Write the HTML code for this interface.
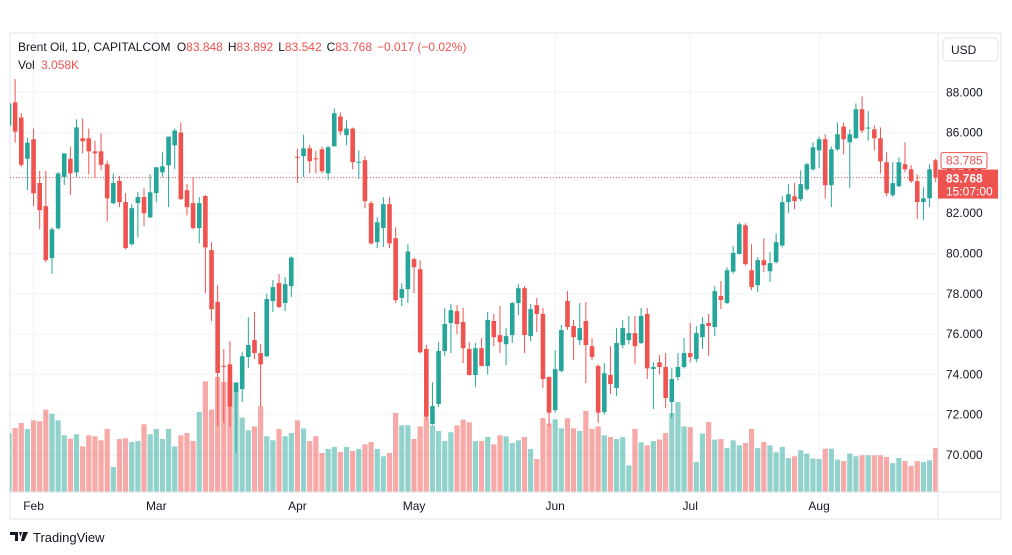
<!DOCTYPE html>
<html><head><meta charset="utf-8">
<style>
html,body{margin:0;padding:0;background:#fff;width:1012px;height:555px;overflow:hidden;font-family:"Liberation Sans",sans-serif}
svg{position:absolute;left:0;top:0}
</style></head>
<body>
<svg id="chart" width="1012" height="555" viewBox="0 0 1012 555">
<rect x="10" y="33" width="991" height="486" fill="#fff" stroke="#e0e3eb" stroke-width="1"/>
<g id="grid"></g>
<g id="vol"></g>
<g id="candles"></g>
<g id="axes"></g>
<text x="18" y="51" font-size="12" fill="#131722">Brent Oil, 1D, CAPITALCOM <tspan dx="3">O</tspan><tspan fill="#ef5350">83.848</tspan><tspan dx="5">H</tspan><tspan fill="#ef5350">83.892</tspan><tspan dx="5">L</tspan><tspan fill="#ef5350">83.542</tspan><tspan dx="5">C</tspan><tspan fill="#ef5350">83.768</tspan><tspan dx="5" fill="#ef5350">−0.017 (−0.02%)</tspan></text>
<text x="18" y="69" font-size="12" fill="#131722">Vol <tspan dx="3" fill="#ef5350">3.058K</tspan></text>
<rect x="943" y="38" width="55" height="23" rx="4" fill="#fff" stroke="#e0e3eb"/>
<text x="951" y="54" font-size="12" fill="#131722">USD</text>
<g>
<path d="M10 532 h8 v9 h-3 v-6 h-5z M19 532 h3 l-1.5 5z M23 532 h5 l-4 9 h-3z" fill="#131722"/>
<text x="33" y="542" font-size="13" fill="#131722">TradingView</text>
</g>
</svg>
<script>
const opens=[86.35,87.5,86.75,84.7,85.67,83.5,82.35,79.77,81.25,83.8,84.7,84.03,85.72,85.72,85.07,85.07,84.43,82.5,83.6,82.55,80.46,82.5,82.8,81.8,83.0,84.03,84.38,85.37,86.0,83.14,82.5,81.26,82.85,80.17,77.6,74.42,74.5,73.1,73.27,74.86,75.7,75.06,74.9,77.64,78.53,77.54,78.38,84.8,84.83,85.22,84.72,85.17,83.98,85.32,86.8,85.87,86.2,84.5,84.63,82.5,80.56,81.26,82.45,80.76,77.8,78.23,79.72,79.22,75.26,71.54,72.53,75.16,76.55,77.14,76.6,75.26,73.97,75.3,74.42,76.65,75.95,75.5,75.95,77.54,78.28,75.9,77.44,77.0,73.87,72.23,74.17,77.64,76.4,75.7,76.65,75.4,74.42,72.13,73.97,73.32,75.46,75.7,76.05,75.56,77.0,74.27,74.6,74.37,72.63,73.87,74.37,75.06,74.76,75.85,76.55,76.35,77.89,77.54,79.1,79.98,81.4,79.17,78.43,79.67,79.12,79.57,80.4,82.55,82.84,82.7,83.19,84.18,85.12,85.67,83.39,85.17,86.3,85.52,85.72,87.16,86.2,86.16,85.72,84.53,82.9,83.34,84.43,84.18,83.59,82.55,82.74,84.63];
const highs=[87.5,88.65,86.97,85.73,86.2,84.1,84.1,81.3,84.03,84.97,85.3,86.66,86.7,86.2,85.6,85.97,84.6,83.98,83.84,83.0,82.45,83.04,83.24,83.93,84.28,85.02,85.8,86.2,86.5,83.44,83.8,82.8,82.9,80.56,78.43,75.26,75.65,73.6,75.1,76.84,77.1,75.5,78.0,78.68,78.98,78.83,79.85,85.2,85.9,85.4,85.1,85.3,85.35,87.2,87.0,86.6,86.25,85.12,84.83,82.6,81.8,82.8,82.8,81.3,78.53,80.46,79.8,79.67,75.46,73.6,75.6,77.3,77.5,77.44,77.3,75.6,75.56,75.8,77.1,77.0,77.4,76.3,77.6,78.48,78.38,77.5,77.79,77.3,73.9,75.2,76.45,78.13,76.7,77.54,77.6,75.8,74.5,74.56,75.4,76.3,76.7,76.9,76.9,77.3,77.3,74.6,74.96,75.06,74.3,75.06,75.8,76.55,76.4,76.84,77.0,78.38,78.63,79.32,80.36,81.55,81.5,80.46,79.82,80.76,80.07,81.0,82.84,83.44,83.5,84.13,84.5,85.52,85.8,85.92,85.32,86.5,86.5,86.16,87.45,87.8,87.06,86.36,86.26,85.02,84.53,84.77,85.52,84.38,83.93,83.29,84.43,84.7];
const lows=[86.3,85.5,84.3,83.15,82.35,81.2,79.57,79.0,81.2,83.4,82.9,83.8,84.97,83.93,83.74,84.13,81.6,82.45,82.3,80.2,80.4,80.8,81.36,81.75,82.55,83.8,82.3,84.18,82.65,81.9,81.2,80.5,78.03,76.65,71.44,71.6,71.4,70.1,72.63,74.32,74.76,72.38,74.85,77.1,77.3,77.14,77.84,83.5,83.8,83.98,83.98,83.98,83.64,85.3,85.87,85.37,84.18,83.69,82.25,80.45,80.27,80.32,80.27,77.54,77.39,77.54,78.03,75.05,71.8,71.5,72.38,74.9,75.06,76.0,74.56,73.95,73.37,74.4,74.0,75.4,75.06,74.46,75.56,76.94,75.06,75.65,76.1,73.32,71.44,72.1,74.1,76.2,74.7,75.46,73.57,74.7,71.6,72.0,73.03,72.93,75.3,75.5,74.5,75.5,73.77,72.28,74.0,72.33,71.84,73.7,74.3,74.6,74.6,75.26,74.91,75.9,77.24,77.5,79.0,79.95,79.4,78.18,78.08,79.07,78.58,79.5,80.3,82.0,82.2,82.6,83.1,84.1,84.23,82.74,82.3,85.1,84.92,83.24,85.7,85.97,85.6,85.12,83.98,82.84,82.8,83.3,84.03,83.5,81.7,81.65,82.3,83.54];
const closes=[87.45,86.05,84.4,85.5,82.99,82.15,79.67,81.2,83.97,84.97,83.98,86.26,85.57,85.07,84.97,84.4,82.74,83.5,82.55,80.27,82.25,82.8,82.0,83.04,84.28,84.33,85.8,86.1,82.7,82.3,81.26,82.5,80.3,77.24,74.07,74.37,72.4,73.6,74.9,75.46,75.06,74.5,77.74,78.33,77.34,78.48,79.8,84.75,85.22,84.58,84.68,84.08,85.27,86.96,86.06,86.2,84.53,84.55,82.6,80.5,81.55,82.45,80.5,77.69,78.23,80.1,79.32,75.1,71.9,72.43,75.16,76.5,77.19,76.5,75.3,73.97,75.3,74.42,76.7,75.85,75.6,75.9,77.54,78.28,75.95,77.24,77.0,73.77,72.1,74.26,76.2,76.35,75.85,76.3,75.46,74.86,72.1,74.06,73.52,75.56,76.3,76.05,75.4,76.9,74.3,74.37,74.37,72.83,73.77,74.37,75.06,74.86,76.05,76.5,76.4,78.13,77.69,79.17,80.03,81.45,79.47,78.33,79.67,79.42,79.52,80.56,82.55,82.94,82.6,83.44,84.43,85.27,85.67,83.39,85.17,85.92,85.67,85.92,87.16,86.1,86.25,85.72,84.58,82.99,83.49,84.53,84.18,83.59,82.55,82.74,84.18,83.768];
const volumes=[4.10,4.44,4.79,4.38,4.98,4.91,5.72,5.44,4.98,3.94,3.71,4.01,3.17,3.94,3.87,3.59,4.38,1.74,3.68,3.73,3.47,3.54,4.70,4.01,4.38,3.68,4.38,3.17,3.94,4.10,3.54,5.56,7.69,5.72,7.99,7.64,7.64,6.88,5.17,4.28,4.56,5.95,3.87,3.59,4.38,3.87,4.10,4.98,4.42,3.54,3.87,2.71,2.99,3.13,2.78,3.13,2.85,2.99,3.31,3.47,2.99,2.48,2.71,5.49,4.63,4.63,3.68,4.56,5.17,4.63,4.24,3.54,4.15,4.63,5.03,4.84,3.54,3.54,3.82,3.31,3.94,3.87,3.40,3.59,3.82,2.99,2.29,5.14,4.75,5.05,4.42,5.12,4.42,4.24,5.63,4.38,4.56,3.94,3.82,3.68,3.82,1.85,4.38,3.45,3.24,3.54,3.64,4.10,5.49,6.25,4.56,4.51,2.08,4.06,4.86,3.64,3.68,3.06,3.59,3.24,3.40,4.38,3.06,3.47,3.24,2.76,3.13,2.36,2.48,2.90,2.67,2.32,2.29,3.01,3.01,2.25,2.15,2.67,2.48,2.55,2.55,2.55,2.55,2.43,2.01,2.36,2.15,1.81,2.15,2.08,2.20,3.06];
const priceTicks=[88,86,84,82,80,78,76,74,72,70];
const tickLabels=["88.000","86.000","84.000","82.000","80.000","78.000","76.000","74.000","72.000","70.000"];
const monthLabels=["Feb","Mar","Apr","May","Jun","Jul","Aug"];
const monthIndex=[4,24,47,66,89,111,132];
const lastPrice=83.768, prevLabel=83.785;

const NS="http://www.w3.org/2000/svg";
const X0=9, DX=6.137, PLOT_L=10, PLOT_R=938, PLOT_T=33, PLOT_B=492;
const xs=i=>X0+DX*i;
const ys=p=>92.3+(88-p)*20.15;
const vh=v=>v*14.4;
function mk(tag,attrs,parent){const e=document.createElementNS(NS,tag);for(const k in attrs)e.setAttribute(k,attrs[k]);parent.appendChild(e);return e;}

const svg=document.getElementById('chart');
const defs=mk('defs',{},svg);
const cp=mk('clipPath',{id:'plotclip'},defs);
mk('rect',{x:PLOT_L,y:PLOT_T,width:PLOT_R-PLOT_L,height:PLOT_B-PLOT_T},cp);

const grid=document.getElementById('grid');
priceTicks.forEach((p,i)=>{
  const l=mk('line',{x1:PLOT_L,x2:PLOT_R,y1:ys(p),y2:ys(p),stroke:'#f0f3fa','stroke-width':1},grid);
  
  
});
monthIndex.forEach((m,i)=>{
  const l=mk('line',{x1:xs(m),x2:xs(m),y1:PLOT_T,y2:PLOT_B,stroke:'#f0f3fa','stroke-width':1},grid);
  
  
});

const vg=document.getElementById('vol');vg.setAttribute('clip-path','url(#plotclip)');
volumes.forEach((v,i)=>{
  const up=closes[i]>=opens[i];
  const r=mk('rect',{x:xs(i)-2.6,y:PLOT_B-vh(v),width:5.2,height:vh(v),fill:up?'rgba(38,166,154,0.5)':'rgba(239,83,80,0.5)'},vg);
  
  
});

const cg=document.getElementById('candles');cg.setAttribute('clip-path','url(#plotclip)');
mk('line',{x1:PLOT_L,x2:PLOT_R,y1:ys(lastPrice),y2:ys(lastPrice),stroke:'#ef5350','stroke-width':1,'stroke-dasharray':'1 2'},cg);
opens.forEach((o,i)=>{
  const c=closes[i],up=c>=o,col=up?'#26a69a':'#ef5350',x=xs(i);
  const g=mk('g',{},cg);
  
  
  mk('line',{x1:x,x2:x,y1:ys(highs[i]),y2:ys(lows[i]),stroke:col,'stroke-width':1},g);
  const top=ys(Math.max(o,c)),bot=ys(Math.min(o,c));
  mk('rect',{x:x-2.3,y:top,width:4.6,height:Math.max(1,bot-top),fill:col},g);
});

const ax=document.getElementById('axes');
mk('line',{x1:PLOT_R,x2:PLOT_R,y1:PLOT_T,y2:519,stroke:'#e0e3eb'},ax);
mk('line',{x1:PLOT_L,x2:1001,y1:PLOT_B,y2:PLOT_B,stroke:'#e0e3eb'},ax);
priceTicks.forEach((p,i)=>{
  const t=mk('text',{x:946,y:ys(p)+4,'font-size':12,fill:'#131722'},ax);
  t.textContent=tickLabels[i];
  
  
});
monthIndex.forEach((m,i)=>{
  const t=mk('text',{x:xs(m),y:510,'font-size':12,fill:'#131722','text-anchor':'middle'},ax);
  t.textContent=monthLabels[i];
  
  
});
const ly=ys(lastPrice);
const pr=mk('rect',{x:941,y:ly-25,width:46,height:16,fill:'#fff',stroke:'#ef5350','stroke-width':1,rx:2},ax);


const pt=mk('text',{x:946,y:ly-13,'font-size':12,fill:'#ef5350'},ax);pt.textContent=prevLabel.toFixed(3);
const lr=mk('rect',{x:938,y:ly-8,width:60,height:29,fill:'#ef5350'},ax);


const lt=mk('text',{x:946,y:ly+5,'font-size':12,fill:'#fff','font-weight':'bold'},ax);lt.textContent=lastPrice.toFixed(3);
const lt2=mk('text',{x:946,y:ly+18,'font-size':12,fill:'#fff'},ax);lt2.textContent='15:07:00';
</script>
</body></html>
